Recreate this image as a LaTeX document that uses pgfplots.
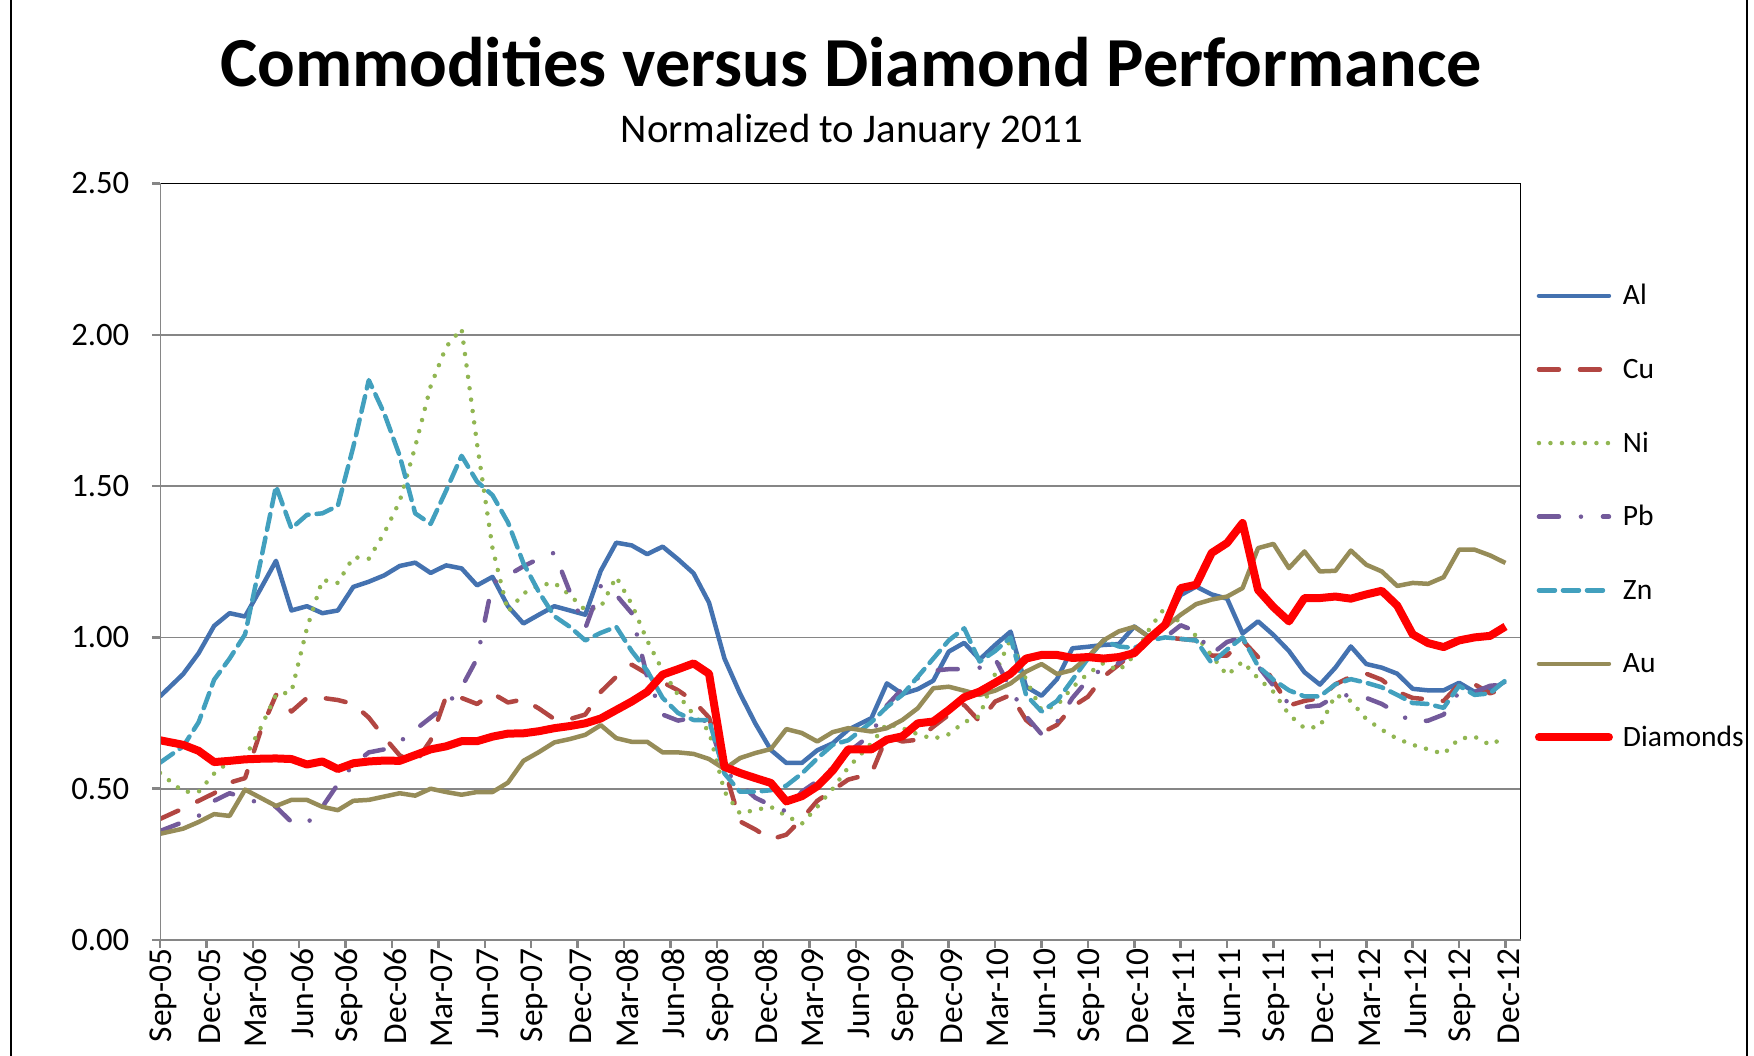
\documentclass[border=0pt]{standalone}
\usepackage{fontspec}
\setmainfont{Carlito}
\usepackage{pgfplots}
\usepackage{pgfplotstable}
\pgfplotsset{compat=1.18}

\definecolor{cAl}{RGB}{68,114,176}
\definecolor{cCu}{RGB}{178,70,66}
\definecolor{cNi}{RGB}{145,182,82}
\definecolor{cPb}{RGB}{115,90,155}
\definecolor{cZn}{RGB}{66,160,190}
\definecolor{cAu}{RGB}{150,140,88}
\definecolor{axgray}{RGB}{134,134,134}

\pgfplotstableread{
x Al Cu Ni Pb Zn Au Dia
0 0.805 0.400 0.552 0.360 0.586 0.351 0.660
1.5 0.879 0.435 0.490 0.390 0.640 0.368 0.645
2.5 0.948 0.460 0.490 0.410 0.720 0.390 0.625
3.5 1.038 0.485 0.550 0.460 0.860 0.416 0.588
4.5 1.080 0.520 0.590 0.485 0.930 0.410 0.592
5.5 1.069 0.535 0.603 0.470 1.010 0.497 0.597
6.5 1.160 0.690 0.700 0.450 1.250 0.470 0.599
7.5 1.253 0.810 0.810 0.440 1.500 0.443 0.600
8.5 1.089 0.755 0.820 0.390 1.360 0.463 0.598
9.5 1.103 0.800 1.030 0.385 1.405 0.463 0.580
10.5 1.080 0.800 1.190 0.440 1.410 0.440 0.590
11.5 1.089 0.793 1.180 0.515 1.435 0.429 0.565
12.5 1.167 0.780 1.265 0.580 1.630 0.460 0.584
13.5 1.184 0.735 1.260 0.620 1.850 0.463 0.590
14.5 1.205 0.670 1.345 0.630 1.740 0.474 0.593
15.5 1.236 0.610 1.450 0.655 1.600 0.485 0.592
16.5 1.247 0.585 1.630 0.695 1.410 0.477 0.611
17.5 1.213 0.660 1.830 0.735 1.375 0.500 0.630
18.5 1.238 0.805 1.960 0.775 1.485 0.489 0.640
19.5 1.228 0.800 2.020 0.835 1.600 0.480 0.657
20.5 1.172 0.780 1.640 0.930 1.515 0.489 0.657
21.5 1.200 0.815 1.295 1.180 1.470 0.489 0.672
22.5 1.103 0.785 1.085 1.205 1.380 0.520 0.682
23.5 1.046 0.795 1.145 1.235 1.245 0.592 0.683
24.5 1.075 0.765 1.172 1.260 1.150 0.621 0.690
25.5 1.103 0.730 1.180 1.280 1.070 0.653 0.700
26.5 1.089 0.730 1.140 1.150 1.035 0.664 0.707
27.5 1.075 0.745 1.090 1.030 0.990 0.678 0.716
28.5 1.220 0.820 1.100 1.170 1.015 0.710 0.732
29.5 1.313 0.870 1.200 1.140 1.035 0.667 0.760
30.5 1.304 0.910 1.110 1.080 0.955 0.655 0.788
31.5 1.275 0.880 0.990 0.870 0.890 0.655 0.820
32.5 1.300 0.852 0.890 0.745 0.800 0.620 0.877
33.5 1.258 0.825 0.810 0.725 0.750 0.620 0.895
34.5 1.212 0.790 0.745 0.735 0.727 0.615 0.914
35.5 1.115 0.735 0.690 0.720 0.727 0.598 0.880
36.5 0.930 0.565 0.490 0.560 0.550 0.565 0.572
37.5 0.815 0.392 0.418 0.515 0.490 0.601 0.552
38.5 0.715 0.365 0.430 0.470 0.490 0.618 0.535
39.5 0.628 0.333 0.440 0.445 0.495 0.631 0.519
40.5 0.585 0.348 0.410 0.425 0.510 0.697 0.458
41.5 0.585 0.400 0.384 0.490 0.550 0.684 0.475
42.5 0.627 0.460 0.440 0.525 0.600 0.656 0.508
43.5 0.650 0.495 0.500 0.570 0.645 0.687 0.560
44.5 0.695 0.530 0.570 0.620 0.660 0.700 0.630
46 0.733 0.550 0.650 0.680 0.720 0.689 0.630
47 0.848 0.673 0.715 0.775 0.770 0.700 0.662
48 0.813 0.656 0.700 0.830 0.810 0.727 0.673
49 0.829 0.662 0.680 0.865 0.870 0.766 0.716
50 0.857 0.705 0.665 0.890 0.930 0.832 0.722
51 0.953 0.744 0.680 0.895 0.990 0.837 0.760
52 0.982 0.777 0.720 0.895 1.030 0.824 0.802
53 0.927 0.722 0.740 0.900 0.920 0.810 0.821
54 0.975 0.788 0.880 0.930 0.955 0.824 0.850
55 1.019 0.810 0.995 0.830 1.000 0.848 0.880
56 0.837 0.727 0.860 0.740 0.810 0.887 0.930
57 0.807 0.684 0.760 0.680 0.755 0.912 0.942
58 0.862 0.711 0.775 0.720 0.790 0.879 0.942
59 0.964 0.771 0.835 0.800 0.860 0.892 0.932
60 0.969 0.804 0.880 0.860 0.930 0.935 0.935
61 0.975 0.870 0.915 0.900 0.990 0.990 0.930
62 0.978 0.910 0.890 0.915 0.970 1.020 0.935
63 1.036 0.950 0.940 0.960 0.965 1.035 0.948
64 1.000 1.000 1.030 1.000 0.990 1.000 0.998
65 1.047 1.000 1.100 1.000 1.000 1.035 1.042
66 1.140 0.995 1.045 1.040 0.995 1.075 1.163
67 1.168 0.990 1.005 1.020 0.990 1.110 1.174
68 1.142 0.940 0.940 0.945 0.915 1.125 1.279
69 1.128 0.940 0.875 0.985 0.960 1.135 1.312
70 1.013 0.990 0.920 1.000 1.000 1.163 1.378
71 1.053 0.935 0.865 0.905 0.905 1.295 1.157
72 1.008 0.855 0.820 0.840 0.860 1.309 1.100
73 0.955 0.775 0.745 0.780 0.825 1.229 1.053
74 0.885 0.790 0.700 0.770 0.805 1.284 1.130
75 0.844 0.800 0.705 0.775 0.805 1.218 1.130
76 0.900 0.845 0.810 0.805 0.845 1.220 1.135
77 0.970 0.870 0.790 0.810 0.862 1.287 1.128
78 0.912 0.880 0.730 0.800 0.850 1.240 1.142
79 0.900 0.860 0.695 0.780 0.835 1.218 1.154
80 0.880 0.820 0.665 0.750 0.810 1.170 1.105
81 0.830 0.800 0.645 0.720 0.783 1.180 1.010
82 0.825 0.795 0.630 0.725 0.780 1.177 0.981
83 0.825 0.790 0.615 0.745 0.767 1.199 0.968
84 0.850 0.845 0.665 0.820 0.840 1.290 0.990
85 0.820 0.845 0.672 0.820 0.810 1.290 1.000
86 0.825 0.815 0.645 0.840 0.815 1.271 1.005
87 0.855 0.833 0.670 0.845 0.858 1.246 1.036
}\data

\begin{document}
\begin{tikzpicture}
\path[use as bounding box] (0,0) rectangle (175.4mm,105.6mm);
\draw[black, line width=0.2mm] (1.1mm,0) -- (1.1mm,105.6mm);
\draw[black, line width=0.2mm] (174.7mm,0) -- (174.7mm,105.6mm);
\node[anchor=base, font={\fontsize{20}{24}\selectfont\bfseries}] at (85.1mm,96.9mm) {Commodities versus Diamond Performance};
\node[anchor=base, font={\fontsize{11.6}{14}\selectfont}] at (85.2mm,91.3mm) {Normalized to January 2011};
\begin{axis}[
  at={(16mm,11.6mm)}, anchor=south west,
  width=136.1mm, height=75.65mm, scale only axis,
  xmin=0, xmax=88, ymin=0, ymax=2.5,
  axis line style={draw=none},
  xtick={0,3,...,87},
  xticklabels={Sep-05,Dec-05,Mar-06,Jun-06,Sep-06,Dec-06,Mar-07,Jun-07,Sep-07,Dec-07,Mar-08,Jun-08,Sep-08,Dec-08,Mar-09,Jun-09,Sep-09,Dec-09,Mar-10,Jun-10,Sep-10,Dec-10,Mar-11,Jun-11,Sep-11,Dec-11,Mar-12,Jun-12,Sep-12,Dec-12},
  ytick={0,0.5,1,1.5,2,2.5},
  /pgf/number format/assume math mode=true,
  yticklabel={\pgfmathprintnumber[fixed,fixed zerofill,precision=2]{\tick}},
  xtick pos=left, ytick pos=left,
  tick align=outside,
  major tick length=0.8mm,
  tick style={axgray, line width=0.25mm},
  xticklabel style={rotate=90, anchor=east, inner sep=0pt, yshift=-0.3mm, font={\fontsize{9.5}{10}\selectfont}},
  yticklabel style={anchor=east, inner sep=0pt, xshift=-2.2mm, font={\fontsize{9.3}{10}\selectfont}},
  ymajorgrids,
  major grid style={axgray, line width=0.17mm},
  legend style={at={(1.0,0.866)}, anchor=north west, xshift=1.4mm, draw=none, fill=none,
    inner sep=0pt, outer sep=0pt, row sep=4.76mm, column sep=1mm,
    font={\fontsize{8.4}{9}\selectfont},
    nodes={inner sep=0pt, text height=2.0mm, text depth=0.6mm, anchor=base west}},
  legend cell align=left,
  legend image code/.code={\draw[#1, line cap=round] (0.2mm,0.9mm) -- (7.2mm,0.9mm);},
  every axis plot/.append style={line join=round},
]
\addplot[cAl, line width=0.45mm] table[x=x,y=Al]{\data};
\addplot[cCu, line width=0.45mm, line cap=round, dash pattern=on 2mm off 2.1mm] table[x=x,y=Cu]{\data};
\addplot[cNi, line width=0.45mm, line cap=round, dash pattern=on 0mm off 1.15mm] table[x=x,y=Ni]{\data};
\addplot[cPb, line width=0.45mm, line cap=round, dash pattern=on 2mm off 2.2mm on 0mm off 2.2mm] table[x=x,y=Pb]{\data};
\addplot[cZn, line width=0.45mm, line cap=round, dash pattern=on 1.6mm off 0.8mm] table[x=x,y=Zn]{\data};
\addplot[cAu, line width=0.45mm] table[x=x,y=Au]{\data};
\addplot[red, line width=0.8mm] table[x=x,y=Dia]{\data};
\legend{Al,Cu,Ni,Pb,Zn,Au,Diamonds}
\draw[black, line width=0.15mm] (rel axis cs:0,1) -- (rel axis cs:1,1) -- (rel axis cs:1,0);
\draw[axgray, line width=0.28mm] (rel axis cs:0,1) -- (rel axis cs:0,0) -- (rel axis cs:1,0);
\end{axis}
\end{tikzpicture}
\end{document}
